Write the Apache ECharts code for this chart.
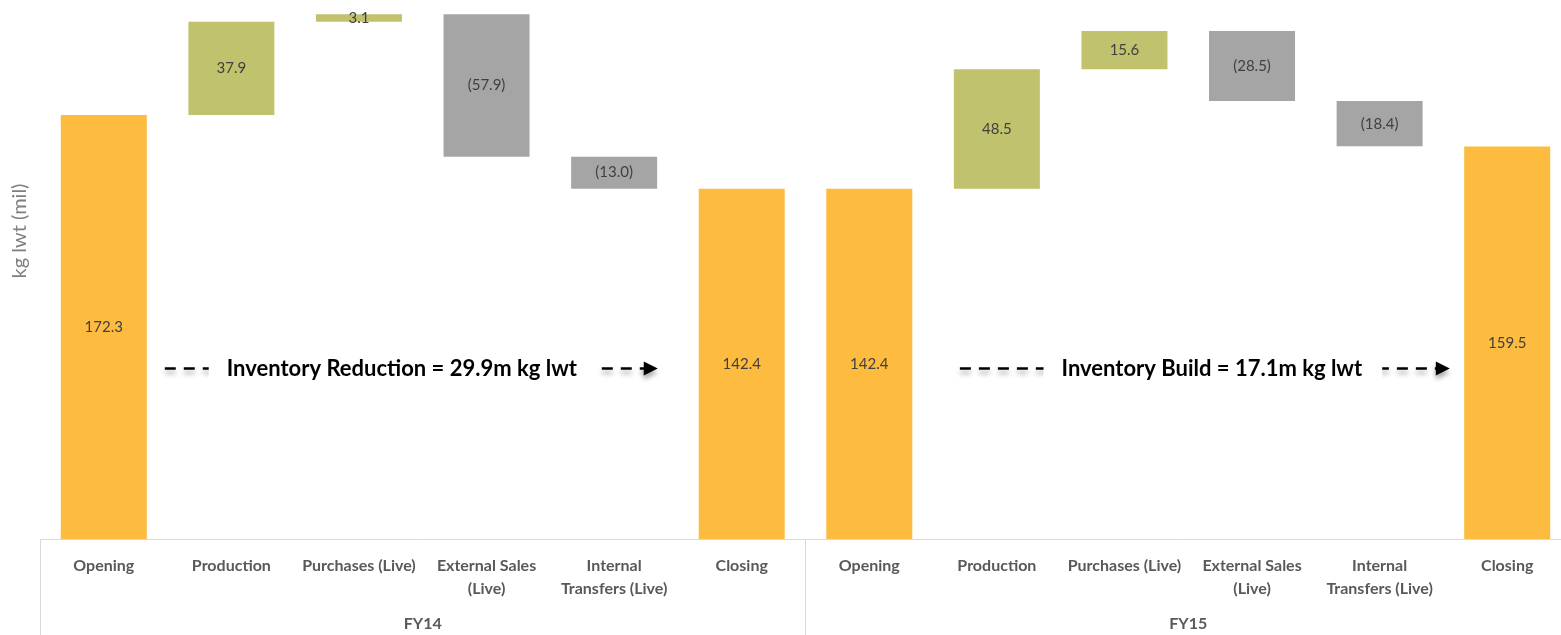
<!DOCTYPE html>
<html>
<head>
<meta charset="utf-8">
<style>
  html, body { margin: 0; padding: 0; background: #ffffff; }
  #chart { width: 1561px; height: 635px; }
</style>
<script src="https://cdn.jsdelivr.net/npm/echarts@6/dist/echarts.min.js"></script>
</head>
<body>
<div id="chart"></div>
<script>
// Inventory bridge (kg lwt, millions) for FY14 and FY15
const stepNames = ['Opening', 'Production', 'Purchases (Live)', 'External Sales\n(Live)', 'Internal\nTransfers (Live)', 'Closing'];
const stepKinds = ['total', 'delta', 'delta', 'delta', 'delta', 'total'];
const years = ['FY14', 'FY15'];
const fy14Values = [172.3, 37.9, 3.1, -57.9, -13.0, 142.4];
const fy15Values = [142.4, 48.5, 15.6, -28.5, -18.4, 159.5];

// Movement annotations: x positions in category-index units, y in axis units
const notes = [
  { text: 'Inventory Reduction = 29.9m kg lwt', start: 0.478, tip: 4.342, center: 2.344, y: 69.3 },
  { text: 'Inventory Build = 17.1m kg lwt',     start: 6.710, tip: 10.550, center: 8.693, y: 69.3 }
];

const palette = { total: '#FDBB40', up: '#C0C26E', down: '#A5A5A5' };
const FONT = 'Lato, "Open Sans", sans-serif';

const categories = [];
const baseData = [];
const barData = [];
[fy14Values, fy15Values].forEach(function (vals) {
  let running = 0;
  vals.forEach(function (v, i) {
    categories.push(stepNames[i]);
    const kind = stepKinds[i];
    let base, height, color, label;
    if (kind === 'total') {
      base = 0; height = v; running = v;
      color = palette.total; label = v.toFixed(1);
    } else if (v >= 0) {
      base = running; height = v; running += v;
      color = palette.up; label = v.toFixed(1);
    } else {
      running += v; base = running; height = -v;
      color = palette.down; label = '(' + (-v).toFixed(1) + ')';
    }
    baseData.push(base);
    barData.push({ value: height, itemStyle: { color: color }, labelText: label });
  });
});

const chart = echarts.init(document.getElementById('chart'));

chart.setOption({
  animation: false,
  grid: { left: 40, top: 10, width: 1531, bottom: 96, outerBoundsMode: 'none', containLabel: false },
  xAxis: [
    {
      type: 'category',
      data: categories,
      axisLine: { lineStyle: { color: '#D9D9D9', width: 1 } },
      axisTick: { show: false },
      axisLabel: {
        interval: 0, margin: 15, lineHeight: 23,
        fontFamily: FONT, fontSize: 16, fontWeight: 'bold', color: '#595959'
      }
    },
    {
      type: 'category',
      position: 'bottom',
      data: years,
      axisLine: { show: false },
      axisTick: { show: true, length: 96, lineStyle: { color: '#D9D9D9', width: 1 } },
      axisLabel: { margin: 77, fontFamily: FONT, fontSize: 16, fontWeight: 'bold', color: '#595959' }
    }
  ],
  yAxis: {
    type: 'value', min: 0, max: 215, show: false,
    splitLine: { show: false }
  },
  series: [
    {
      name: 'base', type: 'bar', stack: 'wf', barWidth: 86,
      data: baseData,
      itemStyle: { color: 'transparent' },
      emphasis: { disabled: true },
      silent: true
    },
    {
      name: 'value', type: 'bar', stack: 'wf', barWidth: 86,
      data: barData,
      emphasis: { disabled: true },
      label: {
        show: true, position: 'inside',
        fontFamily: FONT, fontSize: 15, color: '#404040',
        formatter: function (p) { return p.data.labelText; }
      }
    }
  ]
});

// Dashed arrows with their captions, placed through the axes
function px(idx, val) {
  const a = chart.convertToPixel({ xAxisIndex: 0, yAxisIndex: 0 }, [0, val]);
  const b = chart.convertToPixel({ xAxisIndex: 0, yAxisIndex: 0 }, [1, val]);
  return [a[0] + idx * (b[0] - a[0]), a[1]];
}

const shadow = { shadowBlur: 5, shadowOffsetY: 4, shadowColor: 'rgba(0,0,0,0.35)' };
const graphics = [];
notes.forEach(function (n) {
  const s = px(n.start, n.y);
  const t = px(n.tip, n.y);
  const c = px(n.center, n.y);
  const head = 14;
  graphics.push({
    type: 'line', z: 10,
    shape: { x1: s[0], y1: s[1], x2: t[0] - head + 1, y2: t[1] },
    style: Object.assign({ stroke: '#000', lineWidth: 2.5, lineDash: [11, 8] }, shadow)
  });
  graphics.push({
    type: 'polygon', z: 10,
    shape: { points: [[t[0] - head, t[1] - 7], [t[0], t[1]], [t[0] - head, t[1] + 7]] },
    style: Object.assign({ fill: '#000' }, shadow)
  });
  graphics.push({
    type: 'text', z: 11,
    x: c[0], y: c[1],
    style: {
      text: n.text, fontFamily: FONT, fontSize: 22, fontWeight: 'bold', fill: '#000',
      align: 'center', verticalAlign: 'middle',
      backgroundColor: '#fff', padding: [6, 20, 6, 18]
    }
  });
});

// Value axis title
graphics.push({
  type: 'text', x: 20, y: 231, rotation: Math.PI / 2,
  style: {
    text: 'kg lwt (mil)', fontFamily: FONT, fontSize: 20, fill: '#7F7F7F',
    align: 'center', verticalAlign: 'middle'
  }
});

chart.setOption({ graphic: graphics });
</script>
</body>
</html>
